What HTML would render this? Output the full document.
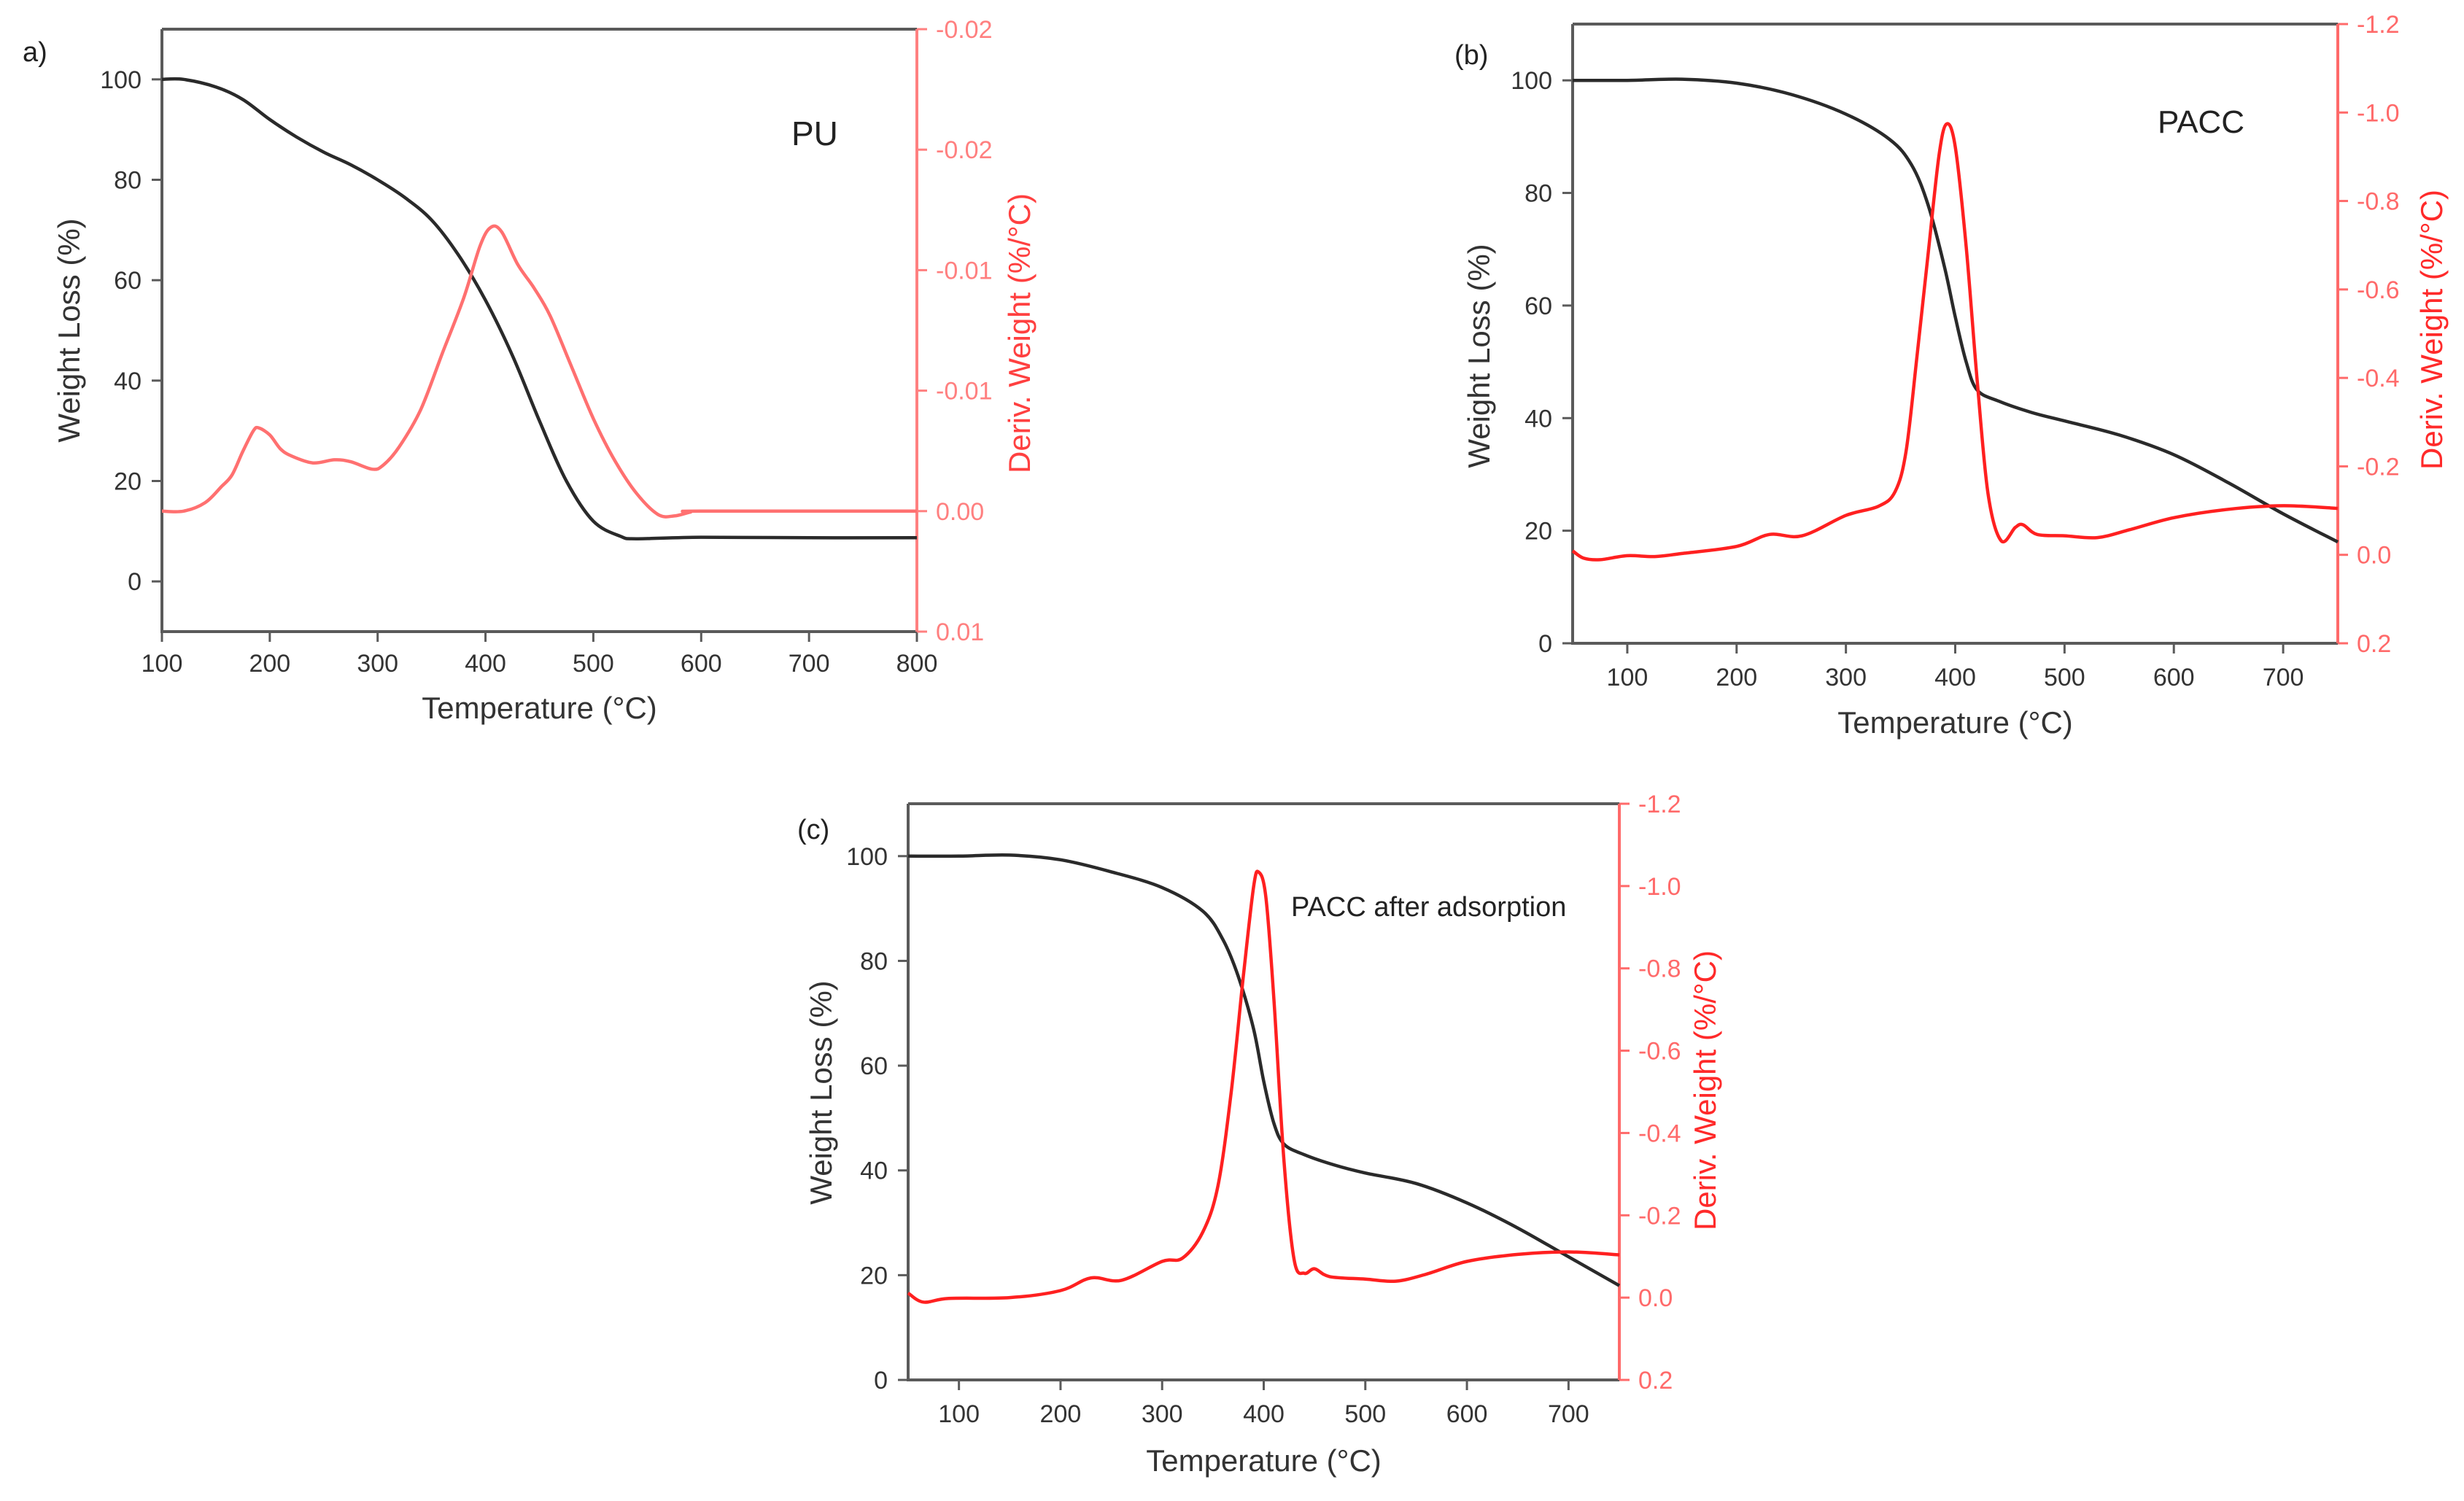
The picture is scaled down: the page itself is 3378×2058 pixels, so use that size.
<!DOCTYPE html>
<html><head><meta charset="utf-8"><style>
html,body{margin:0;padding:0;background:#fff;}
svg{display:block;}
text{font-family:"Liberation Sans",Arial,sans-serif;}
</style></head><body>
<svg id="svg" width="3378" height="2058" viewBox="0 0 3378 2058" xmlns="http://www.w3.org/2000/svg">
<rect width="3378" height="2058" fill="#fff"/>
</svg>
<script>
// ---- Panel A (PU) data ----
const aWeightT = [100,120,150,175,200,225,250,275,300,325,350,375,400,425,450,475,500,525,540,600,700,800];
const aWeightV = [100,100,98.5,96,92,88.5,85.5,83,80,76.5,72,65,56,45,32,20,12,9,8.5,8.8,8.7,8.7];
const aDerivT = [100,120,140,155,165,175,185,190,200,210,220,240,260,275,295,305,320,340,360,380,395,405,415,430,445,460,480,500,520,540,560,575,590,600,800];
const aDerivV = [0,0,-0.00035,-0.00101,-0.0015,-0.00248,-0.00335,-0.00345,-0.00316,-0.00258,-0.00229,-0.002,-0.00213,-0.00205,-0.00174,-0.0019,-0.00267,-0.00422,-0.00655,-0.00887,-0.01101,-0.01178,-0.01159,-0.01023,-0.00926,-0.0081,-0.00597,-0.00384,-0.00209,-0.00074,0.00014,0.0002,0.00004,0,0];
const aXTicks = [100,200,300,400,500,600,700,800];
const aYTicks = [0,20,40,60,80,100];
const aRTicks = [-0.02,-0.015,-0.01,-0.005,0,0.005];
const aRLabels = ["-0.02","-0.02","-0.01","-0.01","0.00","0.01"];
// ---- Panel B (PACC) data ----
const bWeightT = [50,100,150,200,250,300,340,360,375,390,400,410,420,440,470,500,550,600,650,700,750];
const bWeightV = [100,100,100.2,99.5,97.5,94,89.5,85,78,67,58,50,45,43,41,39.5,37,33.5,28.5,23,18];
const bDerivT = [50,60,75,100,125,150,200,230,260,300,330,345,355,365,375,385,392,400,410,420,430,442,455,462,475,500,530,560,600,650,700,750];
const bDerivV = [-0.009,0.0075,0.011,0.002,0.004,-0.003,-0.019,-0.046,-0.043,-0.089,-0.11,-0.143,-0.234,-0.449,-0.675,-0.9,-0.974,-0.923,-0.697,-0.396,-0.138,-0.032,-0.062,-0.068,-0.046,-0.043,-0.039,-0.057,-0.084,-0.103,-0.111,-0.105];
// ---- Panel C (PACC after adsorption) data ----
const cWeightT = [50,100,150,200,250,300,340,360,375,390,400,410,420,440,470,500,550,600,650,700,750];
const cWeightV = [100,100,100.2,99.3,97,94,89.5,84,77,67,57,49,45,43,41,39.5,37.5,33.8,29,23.5,18];
const cDerivT = [50,65,90,150,200,230,260,300,320,340,355,368,380,390,395,402,410,420,430,440,450,465,500,530,560,600,650,700,750];
const cDerivV = [-0.011,0.011,0.002,0,-0.017,-0.048,-0.042,-0.088,-0.096,-0.159,-0.272,-0.499,-0.782,-0.998,-1.034,-0.975,-0.726,-0.329,-0.091,-0.059,-0.07,-0.051,-0.045,-0.04,-0.057,-0.088,-0.105,-0.111,-0.104];
const bcXTicks = [100,200,300,400,500,600,700];
const bcYTicks = [0,20,40,60,80,100];
const bcRTicks = [-1.2,-1.0,-0.8,-0.6,-0.4,-0.2,0,0.2];
const bcRLabels = ["-1.2","-1.0","-0.8","-0.6","-0.4","-0.2","0.0","0.2"];

const NS="http://www.w3.org/2000/svg";
const svg=document.getElementById('svg');
function mk(tag,attrs,parent){const e=document.createElementNS(NS,tag);for(const k in attrs)e.setAttribute(k,attrs[k]);(parent||svg).appendChild(e);return e;}
function txt(s,attrs,parent){const e=mk('text',attrs,parent);e.textContent=s;return e;}
function smooth(pts){
  let d='M'+pts[0][0].toFixed(1)+','+pts[0][1].toFixed(1);
  for(let i=0;i<pts.length-1;i++){
    const p0=pts[Math.max(0,i-1)],p1=pts[i],p2=pts[i+1],p3=pts[Math.min(pts.length-1,i+2)];
    const c1x=p1[0]+(p2[0]-p0[0])/6,c1y=p1[1]+(p2[1]-p0[1])/6;
    const c2x=p2[0]-(p3[0]-p1[0])/6,c2y=p2[1]-(p3[1]-p1[1])/6;
    d+=' C'+c1x.toFixed(1)+','+c1y.toFixed(1)+' '+c2x.toFixed(1)+','+c2y.toFixed(1)+' '+p2[0].toFixed(1)+','+p2[1].toFixed(1);
  }
  return d;
}
function panel(cfg){
  const g=mk('g',{});
  
  
  const X=t=>cfg.x0+(t-cfg.xmin)/(cfg.xmax-cfg.xmin)*(cfg.x1-cfg.x0);
  const Y=v=>cfg.yb-(v-cfg.ymin)/(cfg.ymax-cfg.ymin)*(cfg.yb-cfg.yt);
  const R=v=>cfg.yb-(v-cfg.rmin)/(cfg.rmax-cfg.rmin)*(cfg.yb-cfg.yt);
  const ax='#5a5a5a';
  const top=mk('line',{x1:cfg.x0,y1:cfg.yt,x2:cfg.x1,y2:cfg.yt,stroke:ax,'stroke-width':4},g);
  
  const la=mk('line',{x1:cfg.x0,y1:cfg.yt,x2:cfg.x0,y2:cfg.yb+2,stroke:ax,'stroke-width':4},g);
  
  const ba=mk('line',{x1:cfg.x0-2,y1:cfg.yb,x2:cfg.x1,y2:cfg.yb,stroke:ax,'stroke-width':4},g);
  
  const ra=mk('line',{x1:cfg.x1,y1:cfg.yt,x2:cfg.x1,y2:cfg.yb,stroke:cfg.rAxis,'stroke-width':4},g);
  
  cfg.xt.forEach(t=>{
    const x=X(t);
    const tk=mk('line',{x1:x,y1:cfg.yb,x2:x,y2:cfg.yb+14,stroke:ax,'stroke-width':3},g);
    
    const l=txt(String(t),{x:x,y:cfg.xlabY,'font-size':34,'text-anchor':'middle',fill:'#333'},g);
    
  });
  cfg.yt_.forEach(v=>{
    const y=Y(v);
    const tk=mk('line',{x1:cfg.x0-14,y1:y,x2:cfg.x0,y2:y,stroke:ax,'stroke-width':3},g);
    
    const l=txt(String(v),{x:cfg.x0-28,y:y+12,'font-size':34,'text-anchor':'end',fill:'#333'},g);
    
  });
  cfg.rt.forEach((v,i)=>{
    const y=R(v);
    const tk=mk('line',{x1:cfg.x1,y1:y,x2:cfg.x1+14,y2:y,stroke:cfg.rAxis,'stroke-width':3},g);
    
    const l=txt(cfg.rl[i],{x:cfg.x1+26,y:y+12,'font-size':34,fill:cfg.rAxis},g);
    
  });
  const w=mk('path',{d:smooth(cfg.wT.map((t,i)=>[X(t),Y(cfg.wV[i])])),fill:'none',stroke:'#2a2a2a','stroke-width':4.5,'stroke-linejoin':'round'},g);
  
  const d=mk('path',{d:smooth(cfg.dT.map((t,i)=>[X(t),R(cfg.dV[i])])),fill:'none',stroke:cfg.dCol,'stroke-width':4.5,'stroke-linejoin':'round'},g);
  
  const xt=txt('Temperature (°C)',{x:(cfg.x0+cfg.x1)/2,y:cfg.xtitleY,'font-size':42,'text-anchor':'middle',fill:'#333'},g);
  
  const yt=txt('Weight Loss (%)',{x:0,y:0,'font-size':42,'text-anchor':'middle',fill:'#333',transform:'translate('+(cfg.ytitleX+15)+','+cfg.ytitleY+') rotate(-90)'},g);
  
  const rt=txt('Deriv. Weight (%/°C)',{x:0,y:0,'font-size':42,'text-anchor':'middle',fill:cfg.rTitle,transform:'translate('+(cfg.rtitleX+15)+','+cfg.rtitleY+') rotate(-90)'},g);
  
  const pl=txt(cfg.letter,{x:cfg.letX,y:cfg.letY,'font-size':38,fill:'#222'},g);
  
  const sl=txt(cfg.label,{x:cfg.labX,y:cfg.labY,'font-size':cfg.labSize,fill:'#222'},g);
  
}
panel({name:'panel-a-pu',x0:222,x1:1257,yt:40,yb:866,xmin:100,xmax:800,ymin:-10,ymax:110,rmin:0.005,rmax:-0.02,
  xt:aXTicks,yt_:aYTicks,rt:aRTicks,rl:aRLabels,wT:aWeightT,wV:aWeightV,dT:aDerivT,dV:aDerivV,
  rAxis:'#ff8080',dCol:'#ff7070',rTitle:'#ff4040',xlabY:921,xtitleY:985,ytitleX:94,ytitleY:453,rtitleX:1397,rtitleY:457,
  letter:'a)',letX:31,letY:84,label:'PU',labX:1085,labY:199,labSize:46});
panel({name:'panel-b-pacc',x0:2156,x1:3205,yt:33,yb:882,xmin:50,xmax:750,ymin:0,ymax:110,rmin:0.2,rmax:-1.2,
  xt:bcXTicks,yt_:bcYTicks,rt:bcRTicks,rl:bcRLabels,wT:bWeightT,wV:bWeightV,dT:bDerivT,dV:bDerivV,
  rAxis:'#ff6a6a',dCol:'#ff2020',rTitle:'#ff2a2a',xlabY:940,xtitleY:1005,ytitleX:2027,ytitleY:488,rtitleX:3333,rtitleY:452,
  letter:'(b)',letX:1994,letY:88,label:'PACC',labX:2958,labY:182,labSize:44});
panel({name:'panel-c-pacc-after-adsorption',x0:1245,x1:2220,yt:1102,yb:1892,xmin:50,xmax:750,ymin:0,ymax:110,rmin:0.2,rmax:-1.2,
  xt:bcXTicks,yt_:bcYTicks,rt:bcRTicks,rl:bcRLabels,wT:cWeightT,wV:cWeightV,dT:cDerivT,dV:cDerivV,
  rAxis:'#ff6a6a',dCol:'#ff2020',rTitle:'#ff2a2a',xlabY:1950,xtitleY:2017,ytitleX:1125,ytitleY:1498,rtitleX:2337,rtitleY:1495,
  letter:'(c)',letX:1093,letY:1150,label:'PACC after adsorption',labX:1770,labY:1256,labSize:38});
</script>
</body></html>
